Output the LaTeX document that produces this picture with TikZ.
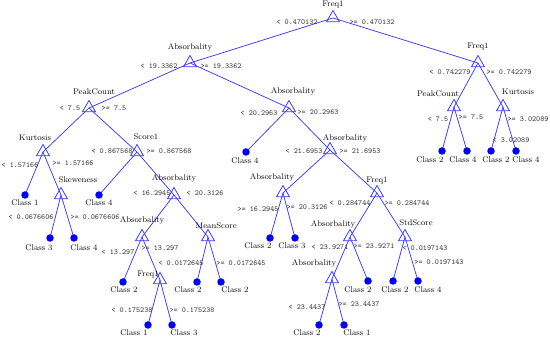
\documentclass[tikz,border=0pt]{standalone}
\usetikzlibrary{shapes.geometric,backgrounds}
\definecolor{edgeblue}{RGB}{60,60,255}
\definecolor{dotblue}{RGB}{0,0,255}
\definecolor{numgray}{RGB}{55,55,55}
\definecolor{namegray}{RGB}{10,10,10}
\tikzset{
  tri/.style={regular polygon, regular polygon sides=3, draw=edgeblue, minimum size=15pt, inner sep=0pt, line width=0.8pt},
  leaf/.style={circle, fill=dotblue, minimum size=7.5pt, inner sep=0pt},
  nm/.style={font=\fontsize{8.2}{9}\selectfont, text=namegray, inner sep=0pt},
  sp/.style={font=\ttfamily\fontsize{7.7}{9}\selectfont, text=numgray, inner sep=0pt},
  cl/.style={font=\fontsize{8.2}{9}\selectfont, text=namegray, inner sep=0pt},
  edge/.style={draw=edgeblue, line width=0.75pt}
}
\begin{document}
\begin{tikzpicture}[x=1pt,y=-1pt]
\useasboundingbox (0,0) rectangle (550,339);
% internal nodes
\node[tri] (R) at (333,18) {};
\node[tri] (A1) at (190,63) {};
\node[tri] (F2) at (478,63) {};
\node[tri] (P1) at (89,108) {};
\node[tri] (A2) at (289,108) {};
\node[tri] (P2) at (454,107) {};
\node[tri] (K2) at (503,107) {};
\node[tri] (K1) at (43,152) {};
\node[tri] (S1) at (137,152) {};
\node[tri] (A3) at (330,150) {};
\node[tri] (SK) at (61,195) {};
\node[tri] (A4) at (174,195) {};
\node[tri] (A5) at (283,193) {};
\node[tri] (F3) at (377,193) {};
\node[tri] (A6) at (142,237) {};
\node[tri] (MS) at (208,237) {};
\node[tri] (A7) at (350,237) {};
\node[tri] (SD) at (405,237) {};
\node[tri] (F4) at (160,280) {};
\node[tri] (A8) at (332,279) {};
% leaves
\node[leaf] (lp2a) at (442,151) {};
\node[leaf] (lp2b) at (467,151) {};
\node[leaf] (lk2a) at (491,151) {};
\node[leaf] (lk2b) at (516,151) {};
\node[leaf] (lk1) at (25,195) {};
\node[leaf] (ls1) at (99,195) {};
\node[leaf] (la2) at (246,152) {};
\node[leaf] (lska) at (50,238) {};
\node[leaf] (lskb) at (74,238) {};
\node[leaf] (la5a) at (270,238) {};
\node[leaf] (la5b) at (295,238) {};
\node[leaf] (la6) at (123,282) {};
\node[leaf] (lmsa) at (197,282) {};
\node[leaf] (lmsb) at (221,282) {};
\node[leaf] (la7) at (368,281) {};
\node[leaf] (lsda) at (393,281) {};
\node[leaf] (lsdb) at (418,281) {};
\node[leaf] (lf4a) at (148,325) {};
\node[leaf] (lf4b) at (172,325) {};
\node[leaf] (la8a) at (319,325) {};
\node[leaf] (la8b) at (344,325) {};
% edges
\begin{pgfonlayer}{background}
\draw[edge] (R.center) -- (A1.center);
\draw[edge] (R.center) -- (F2.center);
\draw[edge] (A1.center) -- (P1.center);
\draw[edge] (A1.center) -- (A2.center);
\draw[edge] (F2.center) -- (P2.center);
\draw[edge] (F2.center) -- (K2.center);
\draw[edge] (P2.center) -- (lp2a.center);
\draw[edge] (P2.center) -- (lp2b.center);
\draw[edge] (K2.center) -- (lk2a.center);
\draw[edge] (K2.center) -- (lk2b.center);
\draw[edge] (P1.center) -- (K1.center);
\draw[edge] (P1.center) -- (S1.center);
\draw[edge] (A2.center) -- (la2.center);
\draw[edge] (A2.center) -- (A3.center);
\draw[edge] (K1.center) -- (lk1.center);
\draw[edge] (K1.center) -- (SK.center);
\draw[edge] (S1.center) -- (ls1.center);
\draw[edge] (S1.center) -- (A4.center);
\draw[edge] (A3.center) -- (A5.center);
\draw[edge] (A3.center) -- (F3.center);
\draw[edge] (SK.center) -- (lska.center);
\draw[edge] (SK.center) -- (lskb.center);
\draw[edge] (A4.center) -- (A6.center);
\draw[edge] (A4.center) -- (MS.center);
\draw[edge] (A5.center) -- (la5a.center);
\draw[edge] (A5.center) -- (la5b.center);
\draw[edge] (F3.center) -- (A7.center);
\draw[edge] (F3.center) -- (SD.center);
\draw[edge] (A6.center) -- (la6.center);
\draw[edge] (A6.center) -- (F4.center);
\draw[edge] (MS.center) -- (lmsa.center);
\draw[edge] (MS.center) -- (lmsb.center);
\draw[edge] (A7.center) -- (A8.center);
\draw[edge] (A7.center) -- (la7.center);
\draw[edge] (SD.center) -- (lsda.center);
\draw[edge] (SD.center) -- (lsdb.center);
\draw[edge] (F4.center) -- (lf4a.center);
\draw[edge] (F4.center) -- (lf4b.center);
\draw[edge] (A8.center) -- (la8a.center);
\draw[edge] (A8.center) -- (la8b.center);
\end{pgfonlayer}
% name labels
\node[nm] (tR) at (333,5) {Freq1};
\node[nm] (tA1) at (190,47) {Absorbality};
\node[nm] (tF2) at (478,47) {Freq1};
\node[nm] (tP1) at (94,92) {PeakCount};
\node[nm] (tA2) at (293,91) {Absorbality};
\node[nm] (tP2) at (438,94) {PeakCount};
\node[nm] (tK2) at (518,92) {Kurtosis};
\node[nm] (tK1) at (35,138) {Kurtosis};
\node[nm] (tS1) at (146,137) {Score1};
\node[nm] (tA3) at (345,138) {Absorbality};
\node[nm] (tSK) at (78,180) {Skeweness};
\node[nm] (tA4) at (174,178) {Absorbality};
\node[nm] (tA5) at (272,177) {Absorbality};
\node[nm] (tF3) at (377,181) {Freq1};
\node[nm] (tA6) at (142,220) {Absorbality};
\node[nm] (tMS) at (216,226) {MeanScore};
\node[nm] (tA7) at (333,224) {Absorbality};
\node[nm] (tSD) at (416,223) {StdScore};
\node[nm] (tF4) at (148,275) {Freq1};
\node[nm] (tA8) at (314,263) {Absorbality};
% split labels
\node[sp] (sR1) at (297,22) {< 0.470132};
\node[sp] (sR2) at (372,22) {>= 0.470132};
\node[sp] (sA11) at (159,66) {< 19.3362};
\node[sp] (sA12) at (221,66) {>= 19.3362};
\node[sp] (sF21) at (450,72) {< 0.742279};
\node[sp] (sF22) at (509,72) {>= 0.742279};
\node[sp] (sP11) at (70,108) {< 7.5};
\node[sp] (sP12) at (114,108) {>= 7.5};
\node[sp] (sA21) at (259,113) {< 20.2963};
\node[sp] (sA22) at (318,112) {>= 20.2963};
\node[sp] (sP21) at (438,119) {< 7.5};
\node[sp] (sP22) at (471,117) {>= 7.5};
\node[sp] (sK22) at (528,119) {>= 3.02089};
\node[sp] (sK21) at (511,140) {< 3.02089};
\node[sp] (sK11) at (20,165) {< 1.57166};
\node[sp] (sK12) at (73,163) {>= 1.57166};
\node[sp] (sS11) at (112,151) {< 0.867568};
\node[sp] (sS12) at (169,151) {>= 0.867568};
\node[sp] (sA31) at (304,151) {< 21.6953};
\node[sp] (sA32) at (360,151) {>= 21.6953};
\node[sp] (sSK1) at (31,217) {< 0.0676606};
\node[sp] (sSK2) at (95,217) {>= 0.0676606};
\node[sp] (sA41) at (152,193) {< 16.2945};
\node[sp] (sA42) at (205,193) {< 20.3126};
\node[sp] (sA51) at (258,209) {>= 16.2945};
\node[sp] (sA52) at (307,207) {>= 20.3126};
\node[sp] (sF31) at (350,203) {< 0.284744};
\node[sp] (sF32) at (407,203) {>= 0.284744};
\node[sp] (sA61) at (118,252) {< 13.297};
\node[sp] (sA62) at (160,248) {>= 13.297};
\node[sp] (sMS1) at (181,263) {< 0.0172645};
\node[sp] (sMS2) at (241,263) {>= 0.0172645};
\node[sp] (sA71) at (330,247) {< 23.9271};
\node[sp] (sA72) at (374,246) {>= 23.9271};
\node[sp] (sSD1) at (425,248) {< 0.0197143};
\node[sp] (sSD2) at (439,262) {>= 0.0197143};
\node[sp] (sF41) at (132,310) {< 0.175238};
\node[sp] (sF42) at (192,310) {>= 0.175238};
\node[sp] (sA81) at (307,307) {< 23.4437};
\node[sp] (sA82) at (359,304) {>= 23.4437};
% class labels
\node[cl] (cp2a) at (430,160) {Class 2};
\node[cl] (cp2b) at (463,160) {Class 4};
\node[cl] (ck2a) at (496,160) {Class 2};
\node[cl] (ck2b) at (526,160) {Class 4};
\node[cl] (ck1) at (25,203) {Class 1};
\node[cl] (cs1) at (99,203) {Class 4};
\node[cl] (ca2) at (245,161) {Class 4};
\node[cl] (cska) at (39,248) {Class 3};
\node[cl] (cskb) at (84,248) {Class 4};
\node[cl] (ca5a) at (258,246) {Class 2};
\node[cl] (ca5b) at (292,246) {Class 3};
\node[cl] (ca6) at (124,290) {Class 2};
\node[cl] (cmsa) at (188,290) {Class 2};
\node[cl] (cmsb) at (235,290) {Class 2};
\node[cl] (ca7) at (358,290) {Class 2};
\node[cl] (csda) at (395,290) {Class 2};
\node[cl] (csdb) at (428,290) {Class 4};
\node[cl] (cf4a) at (134,333) {Class 1};
\node[cl] (cf4b) at (184,333) {Class 3};
\node[cl] (ca8a) at (307,333) {Class 2};
\node[cl] (ca8b) at (357,333) {Class 1};
\end{tikzpicture}
\end{document}
